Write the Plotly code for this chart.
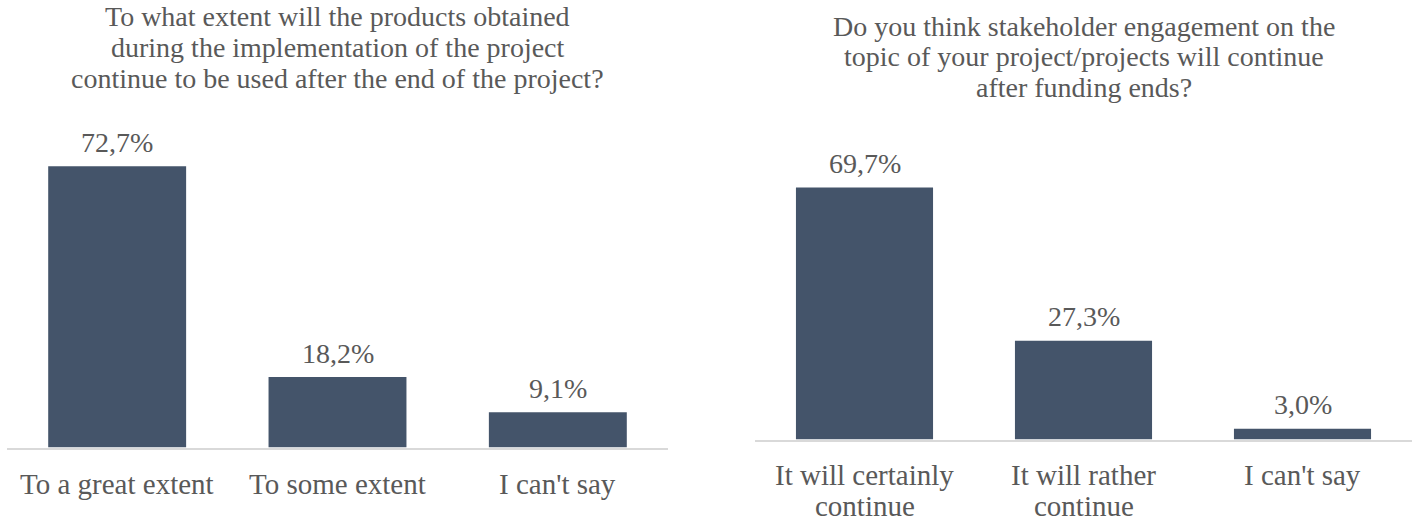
import plotly.graph_objects as go

# Survey results, percent of respondents
q1_title = [
    "To what extent will the products obtained",
    "during the implementation of the project",
    "continue to be used after the end of the project?",
]
q1_categories = [["To a great extent"], ["To some extent"], ["I can't say"]]
q1_values = [72.7, 18.2, 9.1]

q2_title = [
    "Do you think stakeholder engagement on the",
    "topic of your project/projects will continue",
    "after funding ends?",
]
q2_categories = [["It will certainly", "continue"], ["It will rather", "continue"], ["I can't say"]]
q2_values = [69.7, 27.3, 3.0]

W, H = 1417, 525
BAR = "#44546A"
TEXT = "#595959"
AXIS = "#D9D9D9"
FONT = "Liberation Serif"
FS_TITLE = 28
FS_LABEL = 29
FS_VALUE = 28
LINE_GAP = 31


def fx(px):
    return px / W


def fy(py):
    return 1 - py / H


fig = go.Figure()

panels = [
    dict(title=q1_title, cats=q1_categories, vals=q1_values, xa="x", ya="y",
         xdom=(7, 668), base=447.5, scale=3.87, title_mid=47.5, label_y=484),
    dict(title=q2_title, cats=q2_categories, vals=q2_values, xa="x2", ya="y2",
         xdom=(755, 1412), base=439.5, scale=3.615, title_mid=57, label_y=475),
]

annotations = []
for i, p in enumerate(panels):
    keys = [c[0] for c in p["cats"]]
    fig.add_trace(go.Bar(
        x=keys, y=p["vals"], xaxis=p["xa"], yaxis=p["ya"],
        marker=dict(color=BAR, line=dict(width=0)), width=0.626,
        hoverinfo="skip", showlegend=False,
    ))
    sfx = "" if i == 0 else str(i + 1)
    fig.update_layout(**{
        f"xaxis{sfx}": dict(
            domain=[fx(p["xdom"][0]), fx(p["xdom"][1])],
            range=[-0.5, 2.5], anchor=p["ya"],
            showline=True, linecolor=AXIS, linewidth=2,
            showticklabels=False, ticks="", showgrid=False, zeroline=False,
            type="category", fixedrange=True,
        ),
        f"yaxis{sfx}": dict(
            domain=[fy(p["base"]), 1],
            range=[0, p["base"] / p["scale"]], anchor=p["xa"],
            visible=False, showgrid=False, zeroline=False, fixedrange=True,
        ),
    })
    # value labels above bars
    for k, v in zip(keys, p["vals"]):
        annotations.append(dict(
            x=k, y=v, xref=p["xa"], yref=p["ya"], text=f"{v:.1f}%".replace(".", ","),
            showarrow=False, yanchor="middle", yshift=24,
            font=dict(family=FONT, size=FS_VALUE, color=TEXT),
        ))
    # category labels, one annotation per line
    for k, lines in zip(keys, p["cats"]):
        for j, line in enumerate(lines):
            annotations.append(dict(
                x=k, y=fy(p["label_y"] + LINE_GAP * j), xref=p["xa"], yref="paper",
                text=line, showarrow=False, yanchor="middle",
                font=dict(family=FONT, size=FS_LABEL, color=TEXT),
            ))
    # chart title lines
    cx = fx((p["xdom"][0] + p["xdom"][1]) / 2)
    n = len(p["title"])
    for j, line in enumerate(p["title"]):
        ty = p["title_mid"] + (j - (n - 1) / 2) * LINE_GAP
        annotations.append(dict(
            x=cx, y=fy(ty), xref="paper", yref="paper", text=line,
            showarrow=False, yanchor="middle", xanchor="center",
            font=dict(family=FONT, size=FS_TITLE, color=TEXT),
        ))

fig.update_layout(
    width=W, height=H, margin=dict(l=0, r=0, t=0, b=0),
    paper_bgcolor="white", plot_bgcolor="white",
    annotations=annotations, bargap=0.374,
)

fig.write_html("out.html", config={"displayModeBar": False})
